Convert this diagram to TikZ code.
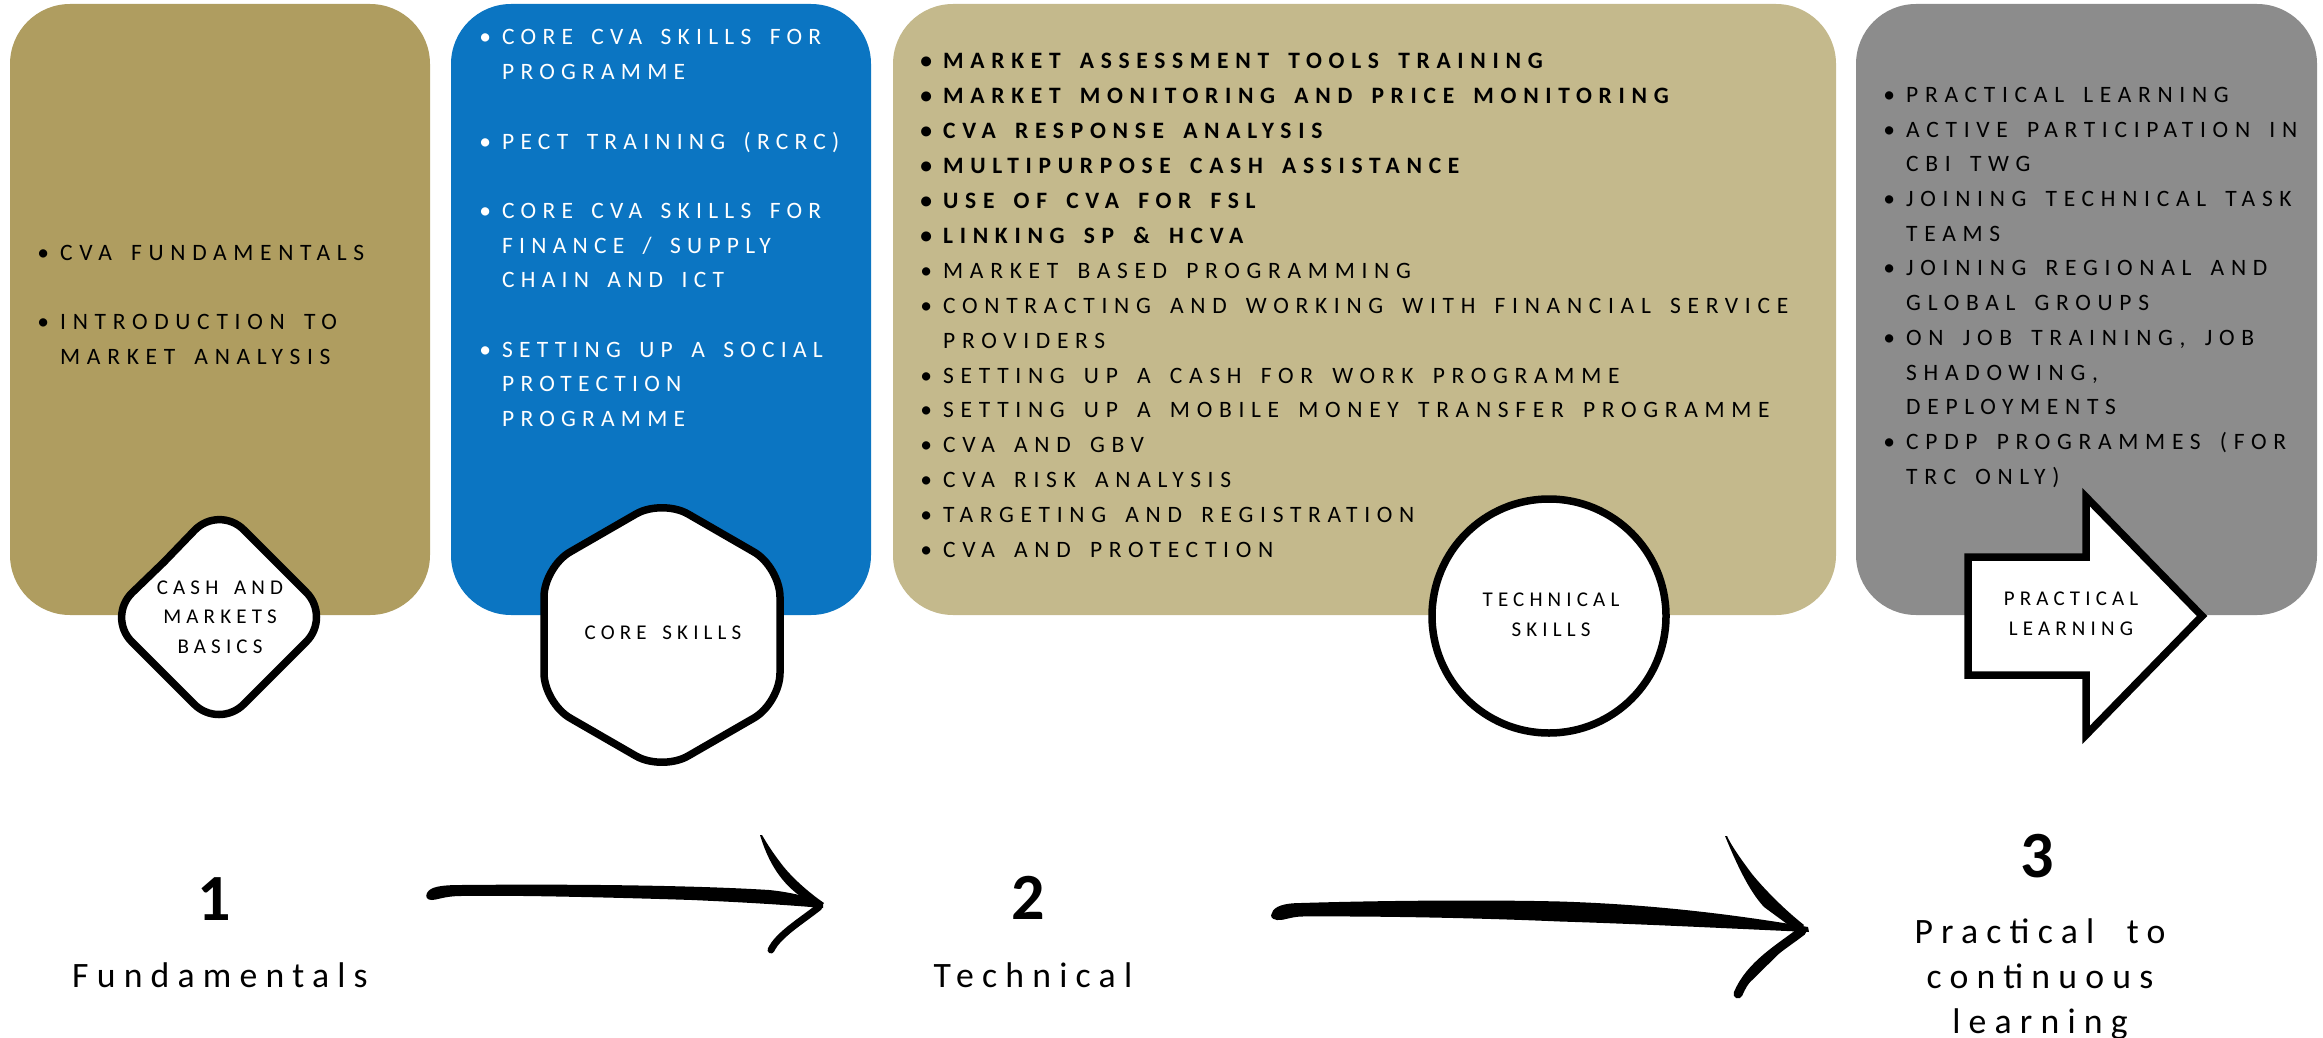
\documentclass[tikz,border=0pt]{standalone}
\usepackage{fontspec}
\setmainfont{Carlito}
\newfontfamily\plainfont{Carlito}
\newfontfamily\boxfont[LetterSpace=28.5, WordSpace=1.6]{Carlito}
\newfontfamily\coreboxfont[LetterSpace=26.5, WordSpace=1.6]{Carlito}
\newfontfamily\shapefont[LetterSpace=24.5, WordSpace=1.6]{Carlito}
\newfontfamily\labfont[LetterSpace=23, WordSpace=2.0]{Carlito}
\newcommand\bl{\llap{\makebox[0pt][c]{\plainfont\textbullet}\hspace{17pt}}}
\newcommand\listfont{\boxfont\fontsize{23.5}{34.7}\selectfont}
\newcommand\corefont{\coreboxfont\fontsize{23.5}{34.7}\selectfont}
\newcommand\techfont{\boxfont\fontsize{23.5}{34.9}\selectfont}
\newcommand\shapetxtfont{\shapefont\fontsize{21}{29.5}\selectfont}
\newcommand\labtxtfont{\labfont\fontsize{35.7}{45}\selectfont}
\newcommand\numfont{\plainfont\bfseries\fontsize{66}{66}\selectfont}
\definecolor{goldA}{RGB}{175,157,96}
\definecolor{blueB}{RGB}{11,117,194}
\definecolor{goldC}{RGB}{196,185,140}
\definecolor{grayD}{RGB}{140,140,140}
\begin{document}
\begin{tikzpicture}[x=1pt,y=-1pt,
 panel/.style={rounded corners=60pt},
 ring/.style={draw=black, line width=7.5pt, fill=white},
 listtext/.style={anchor=base west, inner sep=0pt, font=\listfont},
 shapetext/.style={inner sep=0pt, align=center, font=\shapetxtfont},
 labtext/.style={inner sep=0pt, anchor=base, font=\labtxtfont},
 numtext/.style={inner sep=0pt, anchor=base, font=\numfont},
 brush/.style={fill=black},
]
\useasboundingbox (0,0) rectangle (2323,1038);
% panels
\fill[goldA, panel] (10,4) rectangle (430,615);
\fill[blueB, panel] (451,4) rectangle (871,615);
\fill[goldC, panel] (893,4) rectangle (1836,615);
\fill[grayD, panel] (1856,4) rectangle (2317,615);
% shapes
\draw[ring, rounded corners=35pt] (164,562) -- (219,505) -- (331,617) -- (219,729) -- (107,617) -- (164,562);
\draw[ring, rounded corners=30pt] (544,635) -- (544,567) -- (662,499) -- (780,567) -- (780,703) -- (662,771) -- (544,703) -- (544,635);
\draw[ring] (1549,616) circle[radius=117];
\draw[ring, line join=miter, miter limit=10] (1968,557) -- (2086,557) -- (2086,497) -- (2202,616) -- (2086,735) -- (2086,675) -- (1968,675) -- cycle;
% shape texts
\node[shapetext] (cmb) at (220,617) {CASH AND\\MARKETS\\BASICS};
\node[shapetext] (cs) at (663,633) {CORE SKILLS};
\node[shapetext] (ts) at (1551,615) {TECHNICAL\\SKILLS};
\node[shapetext] (pl) at (2071,614) {PRACTICAL\\LEARNING};
% lists
\node[listtext] (fundlist) at (60,260.5) {\begin{tabular}[t]{@{}l@{}}
\bl CVA FUNDAMENTALS\\
\\
\bl INTRODUCTION TO\\
MARKET ANALYSIS
\end{tabular}};
\node[listtext, font=\corefont, text=white] (corelist) at (502,45) {\begin{tabular}[t]{@{}l@{}}
\bl CORE CVA SKILLS FOR\\
PROGRAMME\\
\\
\bl PECT TRAINING (RCRC)\\
\\
\bl CORE CVA SKILLS FOR\\
FINANCE / SUPPLY\\
CHAIN AND ICT\\
\\
\bl SETTING UP A SOCIAL\\
PROTECTION\\
PROGRAMME
\end{tabular}};
\node[listtext, font=\techfont] (techlist) at (943,69) {\begin{tabular}[t]{@{}l@{}}
\bfseries\bl MARKET ASSESSMENT TOOLS TRAINING\\
\bfseries\bl MARKET MONITORING AND PRICE MONITORING\\
\bfseries\bl CVA RESPONSE ANALYSIS\\
\bfseries\bl MULTIPURPOSE CASH ASSISTANCE\\
\bfseries\bl USE OF CVA FOR FSL\\
\bfseries\bl LINKING SP \& HCVA\\
\bl MARKET BASED PROGRAMMING\\
\bl CONTRACTING AND WORKING WITH FINANCIAL SERVICE\\
PROVIDERS\\
\bl SETTING UP A CASH FOR WORK PROGRAMME\\
\bl SETTING UP A MOBILE MONEY TRANSFER PROGRAMME\\
\bl CVA AND GBV\\
\bl CVA RISK ANALYSIS\\
\bl TARGETING AND REGISTRATION\\
\bl CVA AND PROTECTION
\end{tabular}};
\node[listtext] (praclist) at (1906,102.5) {\begin{tabular}[t]{@{}l@{}}
\bl PRACTICAL LEARNING\\
\bl ACTIVE PARTICIPATION IN\\
CBI TWG\\
\bl JOINING TECHNICAL TASK\\
TEAMS\\
\bl JOINING REGIONAL AND\\
GLOBAL GROUPS\\
\bl ON JOB TRAINING, JOB\\
SHADOWING,\\
DEPLOYMENTS\\
\bl CPDP PROGRAMMES (FOR\\
TRC ONLY)
\end{tabular}};
% bottom labels
\node[numtext] (one) at (214,920) {1};
\node[labtext] (fund) at (220,987) {Fundamentals};
\node[numtext] (two) at (1028,919) {2};
\node[labtext] (tech) at (1033,987) {Technical};
\node[numtext] (three) at (2037,877) {3};
\node[labtext] (pract) at (2040,943) {\begin{tabular}[t]{@{}c@{}}Practical to\\continuous\\learning\end{tabular}};
% brush arrow 1
\fill[brush] (427,893) .. controls (430,887) and (440,885) .. (461,885) .. controls (560,884) and (690,885) .. (769,890) .. controls (790,892) and (810,897) .. (823,903) -- (823,908) .. controls (800,906) and (760,903) .. (692,900) .. controls (600,897) and (500,895) .. (461,896) .. controls (445,896) and (437,900) .. (432,900) .. controls (427,900) and (425,897) .. (427,893) -- cycle;
\fill[brush] (760,835) .. controls (767,858) and (778,880) .. (800,896) -- (819,909) -- (824,903) .. controls (808,892) and (790,876) .. (780,862) .. controls (770,849) and (765,840) .. (762,835) -- cycle;
\draw[brush, draw=black, line width=7pt, line cap=round] (819,907) .. controls (800,922) and (778,935) .. (771,950);
% brush arrow 2
\fill[brush] (1272,913) .. controls (1274,906) and (1285,903) .. (1301,903) .. controls (1400,900) and (1500,900) .. (1560,901.5) .. controls (1640,904) and (1720,912) .. (1808,927) -- (1809,932) .. controls (1720,928) and (1640,924) .. (1560,921.5) .. controls (1480,918) and (1380,916) .. (1301,916.5) .. controls (1290,917) and (1282,921) .. (1277,920) .. controls (1271,919) and (1270,916) .. (1272,913) -- cycle;
\fill[brush] (1725,836) .. controls (1735,860) and (1748,890) .. (1764,907) -- (1798,932) -- (1804,925) .. controls (1785,910) and (1765,890) .. (1752,874) .. controls (1740,858) and (1731,845) .. (1727,836) -- cycle;
\draw[brush, draw=black, line width=9pt, line cap=round] (1802,931) .. controls (1780,948) and (1750,965) .. (1738,994);
\end{tikzpicture}
\end{document}
